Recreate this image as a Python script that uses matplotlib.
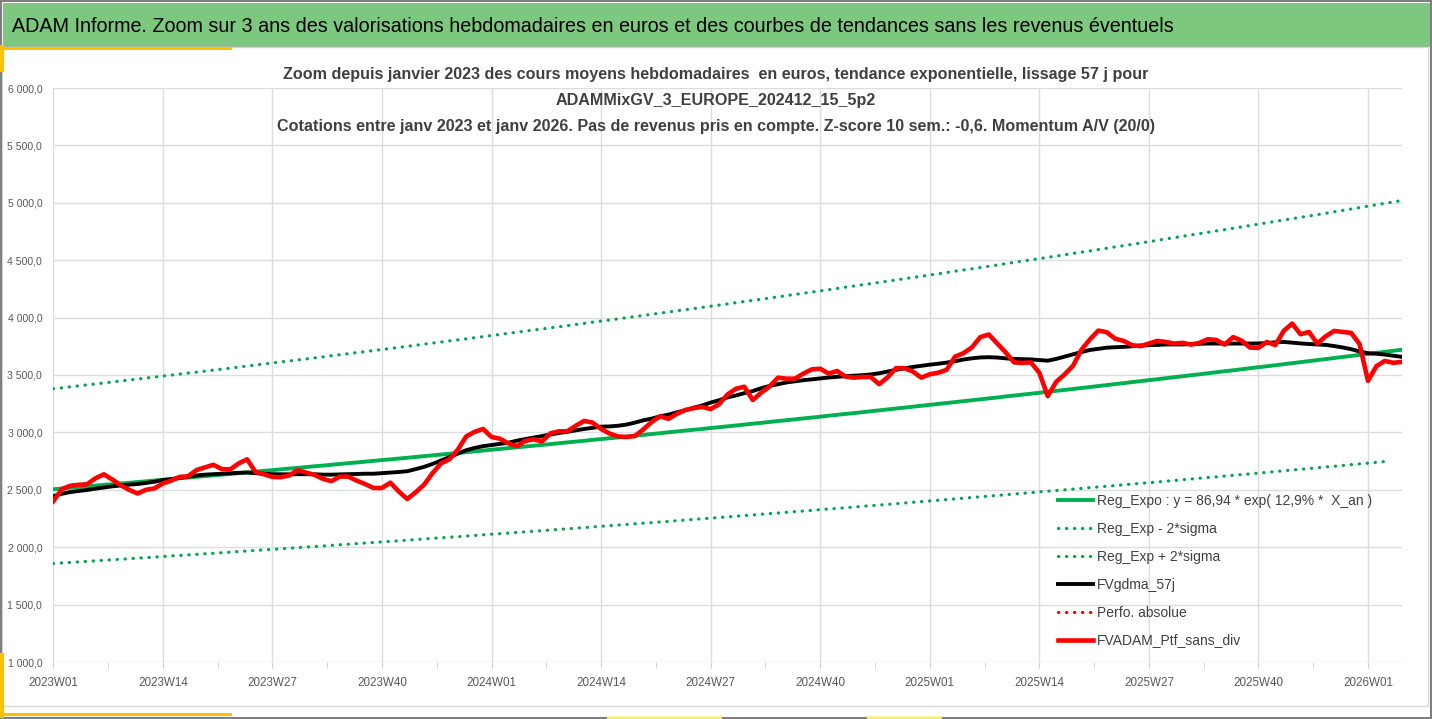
import numpy as np
import matplotlib
matplotlib.use('Agg')
import matplotlib.pyplot as plt
from matplotlib.patches import Rectangle
from matplotlib.lines import Line2D
from matplotlib.ticker import FuncFormatter, FixedLocator

plt.rcParams['font.family'] = ['Liberation Sans', 'DejaVu Sans']

# semaines ISO 2023W01 .. 2026W05
weeks = [f'{y}W{w:02d}' for y in (2023, 2024, 2025) for w in range(1, 53)] + \
        [f'2026W{w:02d}' for w in range(1, 6)]
tick_every = 13

reg_expo = [
    2505, 2511, 2518, 2524, 2530, 2536, 2543, 2549, 2555, 2561,
    2568, 2574, 2581, 2587, 2593, 2600, 2606, 2613, 2619, 2626,
    2632, 2639, 2645, 2652, 2658, 2665, 2671, 2678, 2685, 2691,
    2698, 2705, 2711, 2718, 2725, 2732, 2738, 2745, 2752, 2759,
    2765, 2772, 2779, 2786, 2793, 2800, 2807, 2814, 2821, 2828,
    2835, 2842, 2849, 2856, 2863, 2870, 2877, 2884, 2891, 2898,
    2906, 2913, 2920, 2927, 2935, 2942, 2949, 2956, 2964, 2971,
    2978, 2986, 2993, 3001, 3008, 3016, 3023, 3030, 3038, 3045,
    3053, 3060, 3068, 3076, 3083, 3091, 3099, 3106, 3114, 3122,
    3129, 3137, 3145, 3153, 3161, 3168, 3176, 3184, 3192, 3200,
    3208, 3216, 3224, 3232, 3240, 3248, 3256, 3264, 3272, 3280,
    3288, 3296, 3304, 3313, 3321, 3329, 3337, 3345, 3354, 3362,
    3370, 3378, 3387, 3395, 3404, 3412, 3421, 3429, 3438, 3446,
    3455, 3463, 3472, 3481, 3489, 3498, 3506, 3515, 3524, 3533,
    3541, 3550, 3559, 3568, 3576, 3585, 3594, 3603, 3612, 3621,
    3630, 3639, 3648, 3657, 3666, 3675, 3684, 3693, 3702, 3711,
    3720]

reg_plus = [
    3380, 3388, 3397, 3405, 3414, 3422, 3431, 3439, 3448, 3456,
    3465, 3473, 3482, 3491, 3499, 3508, 3517, 3525, 3534, 3543,
    3551, 3560, 3569, 3578, 3587, 3596, 3605, 3614, 3622, 3631,
    3640, 3649, 3658, 3668, 3677, 3686, 3695, 3704, 3713, 3722,
    3731, 3741, 3750, 3759, 3769, 3778, 3787, 3797, 3806, 3815,
    3825, 3834, 3844, 3853, 3863, 3873, 3882, 3892, 3901, 3911,
    3920, 3930, 3940, 3950, 3960, 3970, 3979, 3989, 3999, 4009,
    4019, 4029, 4039, 4049, 4059, 4069, 4079, 4089, 4099, 4109,
    4119, 4130, 4140, 4150, 4160, 4171, 4181, 4191, 4202, 4212,
    4222, 4233, 4243, 4254, 4265, 4275, 4286, 4296, 4307, 4317,
    4328, 4339, 4350, 4360, 4371, 4382, 4393, 4404, 4415, 4425,
    4436, 4447, 4458, 4470, 4481, 4492, 4503, 4514, 4525, 4536,
    4547, 4559, 4570, 4581, 4593, 4604, 4616, 4627, 4638, 4650,
    4661, 4673, 4685, 4696, 4708, 4720, 4731, 4743, 4755, 4766,
    4778, 4790, 4802, 4814, 4826, 4838, 4850, 4862, 4873, 4885,
    4897, 4909, 4922, 4934, 4946, 4958, 4971, 4983, 4995, 5007,
    5020]

reg_minus = [
    1858, 1863, 1867, 1872, 1877, 1881, 1886, 1891, 1895, 1900,
    1905, 1909, 1914, 1919, 1924, 1928, 1933, 1938, 1943, 1947,
    1952, 1957, 1962, 1967, 1972, 1977, 1981, 1986, 1991, 1996,
    2001, 2006, 2011, 2016, 2021, 2026, 2031, 2036, 2041, 2046,
    2051, 2056, 2061, 2067, 2072, 2077, 2082, 2087, 2092, 2097,
    2102, 2108, 2113, 2118, 2123, 2129, 2134, 2139, 2144, 2150,
    2155, 2160, 2166, 2171, 2177, 2182, 2187, 2193, 2198, 2204,
    2209, 2214, 2220, 2225, 2231, 2237, 2242, 2248, 2253, 2259,
    2264, 2270, 2276, 2281, 2287, 2293, 2298, 2304, 2310, 2315,
    2321, 2327, 2333, 2338, 2344, 2350, 2356, 2362, 2367, 2373,
    2379, 2385, 2391, 2397, 2403, 2409, 2415, 2421, 2427, 2433,
    2439, 2445, 2451, 2457, 2463, 2469, 2475, 2482, 2488, 2494,
    2500, 2506, 2512, 2519, 2525, 2531, 2537, 2544, 2550, 2556,
    2562, 2568, 2575, 2581, 2588, 2594, 2601, 2607, 2613, 2620,
    2626, 2633, 2639, 2646, 2652, 2659, 2666, 2672, 2679, 2685,
    2692, 2699, 2705, 2712, 2719, 2726, 2732, 2739, 2746]

fvgdma_57j = [
    2445, 2465, 2480, 2490, 2498, 2510, 2520, 2530, 2538, 2545,
    2550, 2560, 2570, 2585, 2593, 2605, 2615, 2625, 2632, 2636,
    2640, 2643, 2648, 2650, 2645, 2640, 2636, 2635, 2635, 2636,
    2636, 2635, 2632, 2632, 2634, 2636, 2638, 2640, 2640, 2645,
    2650, 2655, 2662, 2680, 2700, 2725, 2755, 2785, 2815, 2845,
    2865, 2880, 2890, 2900, 2910, 2928, 2942, 2955, 2968, 2982,
    2995, 3005, 3018, 3030, 3040, 3050, 3052, 3058, 3068, 3085,
    3105, 3120, 3140, 3155, 3175, 3193, 3215, 3235, 3260, 3280,
    3305, 3322, 3342, 3360, 3385, 3405, 3420, 3435, 3445, 3455,
    3462, 3470, 3478, 3484, 3490, 3494, 3498, 3505, 3515, 3530,
    3545, 3558, 3570, 3580, 3590, 3598, 3608, 3620, 3635, 3645,
    3653, 3655, 3652, 3645, 3640, 3638, 3636, 3630, 3625, 3640,
    3660, 3680, 3700, 3718, 3728, 3738, 3742, 3745, 3750, 3757,
    3760, 3762, 3766, 3766, 3766, 3770, 3772, 3774, 3774, 3774,
    3774, 3774, 3774, 3775, 3778, 3785, 3788, 3782, 3775, 3770,
    3766, 3762, 3752, 3740, 3725, 3705, 3690, 3685, 3678, 3668,
    3658]

fvadam_sans_div = [
    2400, 2505, 2535, 2543, 2548, 2600, 2635, 2590, 2540, 2500,
    2468, 2500, 2512, 2555, 2580, 2612, 2618, 2672, 2695, 2718,
    2680, 2678, 2730, 2765, 2655, 2635, 2612, 2610, 2625, 2672,
    2650, 2630, 2595, 2575, 2615, 2615, 2580, 2550, 2516, 2516,
    2562, 2485, 2420, 2478, 2545, 2645, 2730, 2765, 2850, 2965,
    3005, 3030, 2960, 2945, 2905, 2880, 2925, 2940, 2922, 2992,
    3009, 3010, 3058, 3100, 3085, 3030, 2990, 2965, 2960, 2968,
    3025, 3090, 3140, 3118, 3162, 3195, 3212, 3222, 3203, 3245,
    3330, 3380, 3398, 3282, 3346, 3400, 3477, 3468, 3468, 3512,
    3549, 3555, 3512, 3535, 3486, 3477, 3483, 3483, 3420, 3480,
    3560, 3560, 3530, 3477, 3506, 3520, 3545, 3660, 3690, 3740,
    3830, 3853, 3775, 3698, 3610, 3605, 3610, 3520, 3316, 3440,
    3505, 3580, 3720, 3810, 3887, 3873, 3816, 3797, 3760, 3751,
    3774, 3797, 3788, 3774, 3780, 3765, 3780, 3812, 3805, 3765,
    3830, 3800, 3739, 3736, 3788, 3760, 3884, 3948, 3855, 3875,
    3774, 3838, 3884, 3875, 3867, 3770, 3449, 3577, 3623, 3606,
    3614]

perfo_absolue = []  # serie vide, seulement dans la legende

titre = ('ADAM Informe. Zoom sur 3 ans des valorisations hebdomadaires en euros '
         'et des courbes de tendances sans les revenus éventuels')
sous_titres = [
    'Zoom depuis janvier 2023 des cours moyens hebdomadaires  en euros, tendance exponentielle, lissage 57 j pour',
    'ADAMMixGV_3_EUROPE_202412_15_5p2',
    'Cotations entre janv 2023 et janv 2026. Pas de revenus pris en compte. Z-score 10 sem.: -0,6. Momentum A/V (20/0)',
]

W, H = 1432, 719
fig = plt.figure(figsize=(W / 100, H / 100), dpi=100)
fig.patch.set_facecolor('white')

def fx(px):
    return px / W

def fy(py):
    return 1 - py / H

# bordures et bandeau
fig.patches.append(Rectangle((fx(2), fy(706)), fx(1426), 659 / H, transform=fig.transFigure,
                             fill=False, edgecolor='#D9D9D9', lw=1.0))
fig.patches.append(Rectangle((fx(3), fy(46)), fx(1426), 43 / H, transform=fig.transFigure,
                             facecolor='#7DC87F', edgecolor='#9BB89B', lw=0.8))
fig.patches.append(Rectangle((0.0005, 0.001), 0.999, 0.998, transform=fig.transFigure,
                             fill=False, edgecolor='#7F7F7F', lw=1.5))
# reperes de selection (jaune / orange)
orange = '#FFC000'
fig.add_artist(Line2D([fx(0), fx(230)], [fy(47.5), fy(47.5)], color=orange, lw=2.2))
fig.add_artist(Line2D([fx(2), fx(2)], [fy(47), fy(70)], color=orange, lw=3))
fig.add_artist(Line2D([fx(0), fx(230)], [fy(714), fy(714)], color=orange, lw=2.2))
fig.add_artist(Line2D([fx(2), fx(2)], [fy(655), fy(716)], color=orange, lw=3))
fig.add_artist(Line2D([fx(608), fx(720)], [fy(717), fy(717)], color='#FFF08A', lw=2))
fig.add_artist(Line2D([fx(868), fx(940)], [fy(717), fy(717)], color='#FFF08A', lw=2))

fig.text(fx(12), fy(26), titre, fontsize=14.2, color='black', va='center', ha='left')

ax = fig.add_axes([fx(53.3), fy(662), fx(1401.7 - 53.3), (662 - 88) / H])
ax.set_facecolor('none')
x = np.arange(len(weeks))

ax.plot(x[:len(reg_minus)], reg_minus, color='#00A650', lw=2.3, linestyle=(0, (0.1, 2.4)),
        dash_capstyle='round', label='Reg_Exp - 2*sigma', zorder=3)
ax.plot(x, reg_plus, color='#00A650', lw=2.3, linestyle=(0, (0.1, 2.4)),
        dash_capstyle='round', label='Reg_Exp + 2*sigma', zorder=3)
ax.plot(x, reg_expo, color='#00B050', lw=2.8, label='Reg_Expo : y = 86,94 * exp( 12,9% *  X_an )',
        zorder=4)
ax.plot(x, fvgdma_57j, color='black', lw=2.8, label='FVgdma_57j', solid_joinstyle='round', zorder=5)
ax.plot(x[:len(perfo_absolue)], perfo_absolue, color='#FF0000', lw=2.3, linestyle=(0, (0.1, 2.4)),
        dash_capstyle='round', label='Perfo. absolue', zorder=5)
ax.plot(x, fvadam_sans_div, color='#FF0000', lw=3.3, label='FVADAM_Ptf_sans_div',
        solid_joinstyle='round', zorder=6)

ax.set_xlim(0, len(weeks) - 1)
ax.set_ylim(1000, 6000)
for s in ax.spines.values():
    s.set_visible(False)

major = list(range(0, len(weeks), tick_every))
ax.xaxis.set_major_locator(FixedLocator(major))
ax.xaxis.set_minor_locator(FixedLocator([m + tick_every / 2 for m in major]))
ax.set_xticklabels([weeks[i] for i in major])
ax.set_yticks(np.arange(1000, 6001, 500))
ax.yaxis.set_major_formatter(FuncFormatter(
    lambda v, p: f'{v:,.1f}'.replace(',', ' ').replace('.', ',')))
ax.grid(True, which='major', color='#DCDCE2', lw=1.0, zorder=0)
ax.tick_params(axis='x', which='both', length=4, color='#D0D0D0', labelsize=8.4,
               labelcolor='#595959', pad=7)
ax.tick_params(axis='y', length=0, labelsize=7.6, labelcolor='#595959', pad=8)

order = ['Reg_Expo : y = 86,94 * exp( 12,9% *  X_an )', 'Reg_Exp - 2*sigma', 'Reg_Exp + 2*sigma',
         'FVgdma_57j', 'Perfo. absolue', 'FVADAM_Ptf_sans_div']
h, l = ax.get_legend_handles_labels()
hd = dict(zip(l, h))
leg = fig.legend([hd[k] for k in order], order, loc='upper left',
                 bbox_to_anchor=(fx(1058), fy(494)), frameon=False, borderpad=0, borderaxespad=0,
                 fontsize=10, handlelength=2.5, handletextpad=0.3, labelspacing=1.0)
for t in leg.get_texts():
    t.set_color('#404040')

for txt, py in zip(sous_titres, [75, 101, 127]):
    fig.text(fx(716), fy(py), txt, fontsize=11.6, fontweight='bold', color='#404040',
             ha='center', va='center')

fig.savefig('out.png', dpi=100)
